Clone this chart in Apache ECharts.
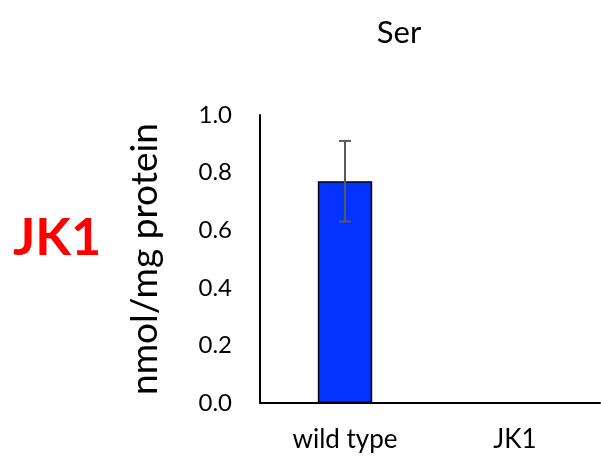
<!DOCTYPE html>
<html>
<head>
<meta charset="utf-8">
<script src="https://cdn.jsdelivr.net/npm/echarts@6/dist/echarts.min.js"></script>
<style>
  html, body { margin: 0; padding: 0; background: #fff; }
  #chart { width: 601px; height: 456px; }
</style>
</head>
<body>
<div id="chart"></div>
<script>
// Serine content per strain (nmol/mg protein), mean and standard deviation
const categories = ['wild type', 'JK1'];
const values = [0.77, 0];
const errors = [0.14, null];
const yTicks = [0, 0.2, 0.4, 0.6, 0.8, 1.0];

const FONT = 'Lato, "Open Sans", sans-serif';

const chart = echarts.init(document.getElementById('chart'));

const errorData = categories
  .map((c, i) => [i, values[i], errors[i]])
  .filter(d => d[2] != null);

chart.setOption({
  animation: false,
  title: [
    {
      text: 'Ser',
      left: 394, top: 12,
      textAlign: 'center',
      textStyle: { fontFamily: FONT, fontSize: 31, fontWeight: 'normal', color: '#000' }
    },
    {
      text: 'JK1',
      left: 8, top: 207,
      textStyle: { fontFamily: FONT, fontSize: 52, fontWeight: 'bold', color: '#ff0000' }
    }
  ],
  grid: { left: 260, right: 1, top: 115, bottom: 53, containLabel: false },
  xAxis: {
    type: 'category',
    data: categories,
    axisLine: { lineStyle: { color: '#000', width: 2 } },
    axisTick: { show: false },
    axisLabel: { fontFamily: FONT, fontSize: 26, color: '#000', margin: 24 }
  },
  yAxis: {
    type: 'value',
    min: yTicks[0],
    max: yTicks[yTicks.length - 1],
    interval: 0.2,
    name: 'nmol/mg protein',
    nameLocation: 'middle',
    nameGap: 96,
    nameRotate: 90,
    nameTextStyle: { fontFamily: FONT, fontSize: 37, color: '#000' },
    axisLine: { show: true, lineStyle: { color: '#000', width: 2 } },
    axisTick: { show: false },
    splitLine: { show: false },
    axisLabel: {
      fontFamily: FONT, fontSize: 24, color: '#000', margin: 28,
      formatter: v => v.toFixed(1)
    }
  },
  series: [
    {
      type: 'bar',
      data: values,
      barWidth: '32%',
      itemStyle: { color: '#0433ff', borderColor: '#000', borderWidth: 1.5 }
    },
    {
      type: 'custom',
      data: errorData,
      z: 10,
      renderItem: (params, api) => {
        const x = api.value(0);
        const mean = api.value(1);
        const err = api.value(2);
        const top = api.coord([x, mean + err]);
        const bot = api.coord([x, mean - err]);
        const half = 6;
        const style = { stroke: '#595959', lineWidth: 2 };
        return {
          type: 'group',
          children: [
            { type: 'line', shape: { x1: top[0], y1: top[1], x2: bot[0], y2: bot[1] }, style },
            { type: 'line', shape: { x1: top[0] - half, y1: top[1], x2: top[0] + half, y2: top[1] }, style },
            { type: 'line', shape: { x1: bot[0] - half, y1: bot[1], x2: bot[0] + half, y2: bot[1] }, style }
          ]
        };
      }
    }
  ]
});
</script>
</body>
</html>
